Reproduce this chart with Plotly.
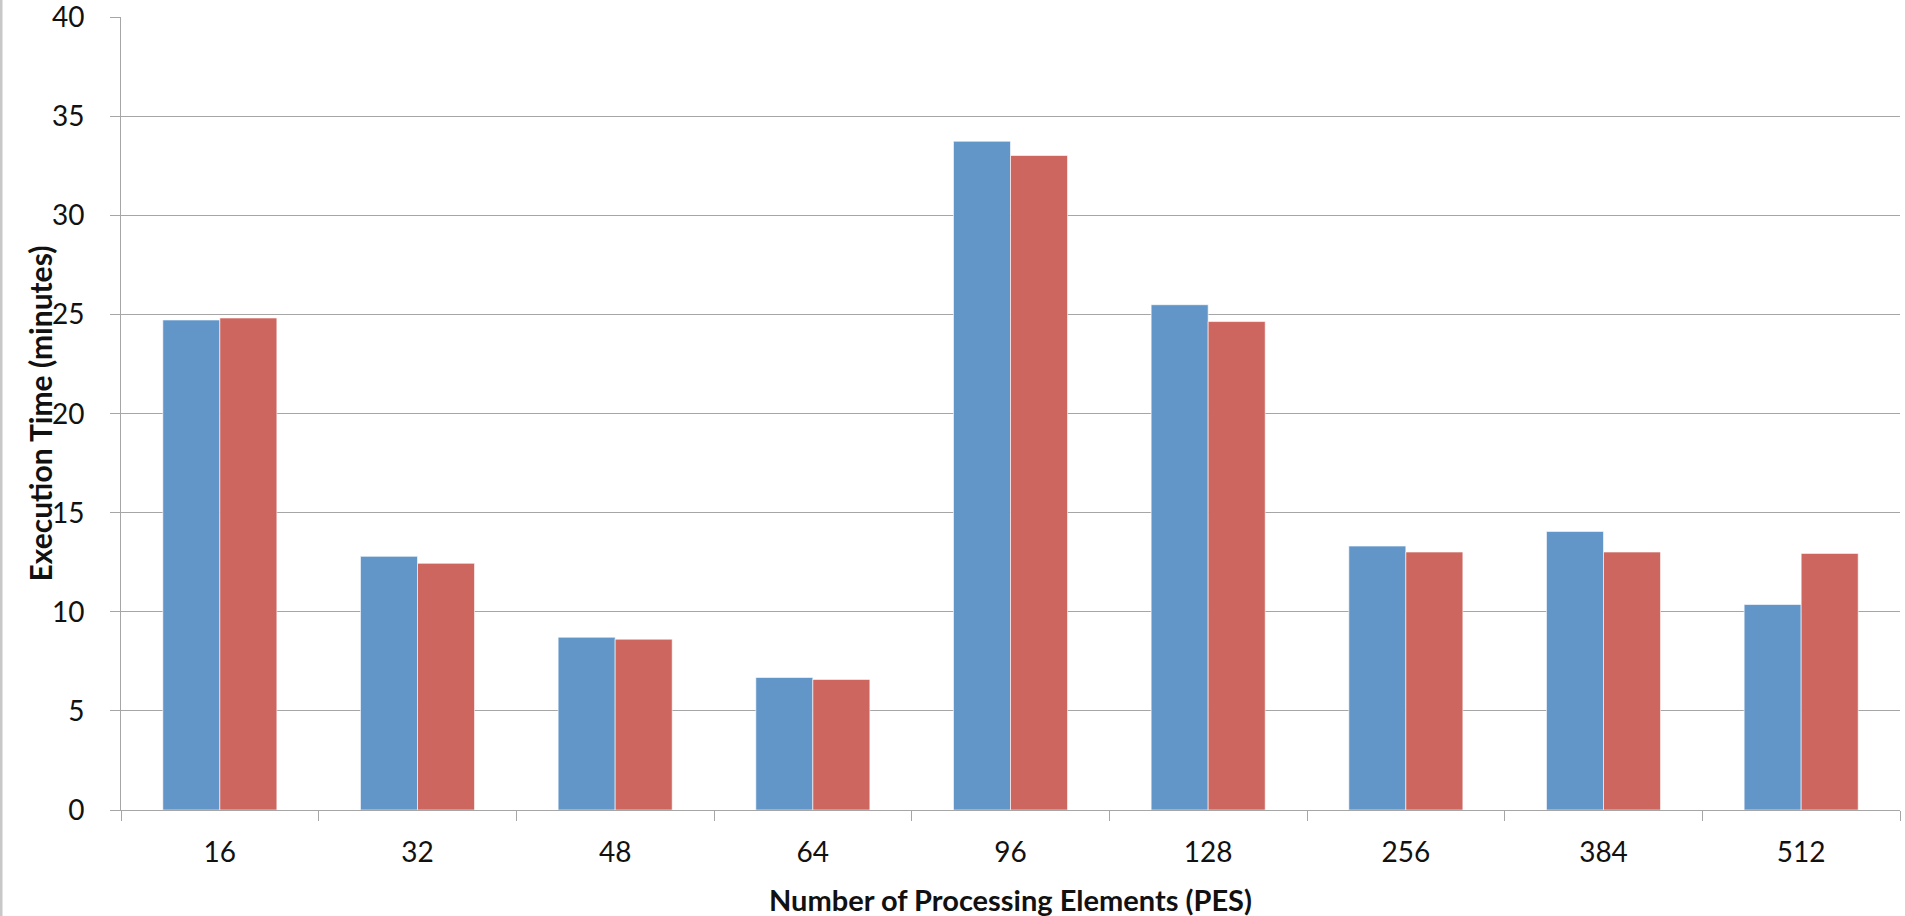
import plotly.graph_objects as go

categories = ["16", "32", "48", "64", "96", "128", "256", "384", "512"]
series_a = [24.73, 12.80, 8.72, 6.69, 33.75, 25.50, 13.32, 14.06, 10.37]
series_b = [24.83, 12.45, 8.62, 6.59, 33.03, 24.65, 13.02, 13.02, 12.95]
y_ticks = [0, 5, 10, 15, 20, 25, 30, 35, 40]

BLUE = "#6296C9"
RED = "#CD665F"
GRID = "#a6a6a6"
TICK_FONT = dict(family="Lato, 'Open Sans', sans-serif", size=28, color="#111111")

L, R, T, B = 121, 5, 17, 106
W, H = 1905, 916
PW, PH = W - L - R, H - T - B

fig = go.Figure()
fig.add_trace(go.Bar(x=categories, y=series_a, name="Series 1",
                     marker=dict(color=BLUE, line=dict(color="rgba(255,255,255,0.6)", width=1))))
fig.add_trace(go.Bar(x=categories, y=series_b, name="Series 2",
                     marker=dict(color=RED, line=dict(color="rgba(255,255,255,0.6)", width=1))))

fig.update_layout(
    width=W, height=H,
    margin=dict(l=L, r=R, t=T, b=B),
    paper_bgcolor="white", plot_bgcolor="white",
    barmode="group", bargap=0.423, bargroupgap=0,
    showlegend=False,
    xaxis=dict(
        type="category", tickson="boundaries", ticks="outside", ticklen=10, tickcolor=GRID,
        showline=True, linecolor=GRID, linewidth=1, showgrid=False,
        tickfont=TICK_FONT, ticklabelstandoff=17,
        automargin=False,
    ),
    yaxis=dict(
        range=[0, 40.02], tickvals=y_ticks, ticks="outside", ticklen=10, tickcolor=GRID,
        showline=True, linecolor=GRID, linewidth=1, showgrid=True, gridcolor=GRID, gridwidth=1,
        zeroline=False, tickfont=TICK_FONT, ticklabelstandoff=20,
        ticklabeloverflow="allow", automargin=False,
    ),
)

fig.add_annotation(text="<b>Number of Processing Elements (PES)</b>", xref="paper", yref="paper",
                   x=0.5, y=(0 - (899 - (T + PH))) / PH, xanchor="center", yanchor="middle",
                   showarrow=False, font=dict(family="Lato, sans-serif", size=29, color="#111111"))
fig.add_annotation(text="<b>Execution Time (minutes)</b>", xref="paper", yref="paper",
                   x=(39 - L) / PW, y=0.5, xanchor="center", yanchor="middle", textangle=-90,
                   showarrow=False, font=dict(family="Lato, sans-serif", size=30, color="#111111"))

fig.add_shape(type="line", xref="paper", yref="paper", x0=(1 - L) / PW, x1=(1 - L) / PW,
              y0=-B / PH, y1=1 + T / PH, line=dict(color="#c8c8c8", width=3))

fig.write_html("out.html")
